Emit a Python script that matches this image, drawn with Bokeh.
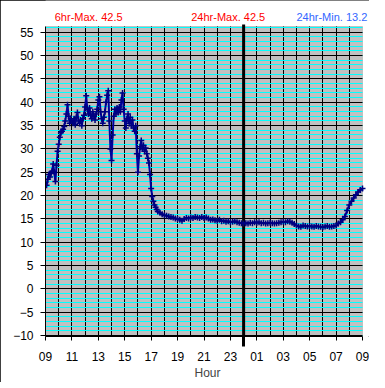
from bokeh.plotting import figure
from bokeh.models import (Range1d, FixedTicker, SingleIntervalTicker, Label,
                          BoxAnnotation)
from bokeh.embed import file_html
from bokeh.resources import INLINE

# 5-minute readings, 09:00 - 17:30
day_temps = [
    22.8, 22.2, 23.5, 24.5, 24.0, 24.8, 25.2, 26.8, 25.0, 23.0, 26.5, 29.5,
    31.0, 32.5, 33.5, 33.8, 34.2, 34.8, 36.0, 37.5, 39.5, 37.0, 35.5, 36.5,
    36.0, 35.5, 36.5, 35.2, 36.8, 37.8, 36.0, 35.5, 36.2, 35.0, 36.5, 37.2,
    39.0, 41.4, 38.5, 37.5, 38.8, 37.2, 36.5, 38.0, 37.0, 36.2, 37.5, 38.5,
    40.5, 41.2, 38.0, 36.5, 35.5, 36.8, 38.0, 40.0, 41.5, 42.5, 36.0, 30.0,
    27.5, 33.0, 37.0, 38.5, 37.5, 38.8, 37.8, 39.0, 38.0, 40.5, 42.0, 38.5,
    36.0, 34.5, 36.5, 37.5, 35.5, 36.8, 35.0, 36.2, 34.5, 33.8, 35.0, 29.0,
    25.0, 28.5, 30.5, 31.8, 30.0, 30.8, 29.5, 30.2, 29.0, 28.0, 27.0, 24.5,
    21.5, 19.8, 18.8, 18.0, 17.5, 17.0, 16.6,
]
# 10-minute readings, 17:40 - 09:00
night_temps = [
    16.3, 16.0,
    15.8, 15.7, 15.5, 15.4, 15.3, 15.1,
    15.0, 14.8, 14.6, 15.0, 15.2, 15.1,
    15.3, 15.2, 15.4, 15.3, 15.2, 15.4,
    15.2, 15.3, 15.1, 14.8, 14.9, 14.7,
    14.6, 14.8, 14.5, 14.6, 14.4, 14.5,
    14.3, 14.4, 14.5, 14.3, 14.2, 14.1,
    14.0, 14.1, 14.0, 14.2, 14.1, 14.3,
    14.2, 14.3, 14.1, 14.2, 14.0, 14.1,
    14.2, 14.1, 14.0, 14.1, 14.2, 14.3,
    14.4, 14.3, 14.5, 14.4, 14.2, 13.9,
    13.6, 13.4, 13.3, 13.6, 13.5, 13.4,
    13.5, 13.4, 13.3, 13.5, 13.4, 13.3,
    13.2, 13.4, 13.5, 13.3, 13.4, 13.5,
    13.6, 14.0, 14.3, 14.8, 15.5, 16.8,
    18.0, 18.8, 19.5, 20.2, 20.8, 21.2,
    21.5,
]
day_minutes = list(range(0, 515, 5))
night_minutes = list(range(520, 1441, 10))

hour_labels = ["09", "11", "13", "15", "17", "19", "21", "23",
               "01", "03", "05", "07", "09"]
y_ticks = list(range(-10, 60, 5))
midnight = 900          # minutes after 09:00
max_6hr = 42.5
max_24hr = 42.5
min_24hr = 13.2

minutes = day_minutes + night_minutes
temps = day_temps + night_temps

FONT = "Liberation Sans"

# layout geometry (pixels)
PLOT_W = 317                   # width of the grey plot area
RIGHT = 7                      # strip right of the plot area (inside frame)
FRAME_H = 336
HEAD = 26                      # header strip above the plot area
x_start, x_stop = 0, 1440
x_end = x_stop + RIGHT * (x_stop - x_start) / PLOT_W
plot_bottom, plot_top = -10.2, 56.25
scale = (FRAME_H - HEAD) / (plot_top - plot_bottom)
y_end = plot_top + HEAD / scale
head_y = y_end - 16 / scale
line_top = y_end - 24 / scale

p = figure(frame_width=PLOT_W + RIGHT, frame_height=FRAME_H,
           x_range=Range1d(x_start, x_end), y_range=Range1d(plot_bottom, y_end),
           output_backend="svg", toolbar_location=None,
           min_border_left=45, min_border_right=0,
           min_border_top=0, min_border_bottom=36)
p.background_fill_color = "white"
p.border_fill_color = "white"
p.outline_line_color = None
p.styles = {"outline": "1px solid black", "outline-offset": "-1px"}

# plot area
p.add_layout(BoxAnnotation(left=x_start, right=x_stop, bottom=plot_bottom, top=plot_top,
                           fill_color="#c0c0c0", fill_alpha=1,
                           line_color="#808080", line_width=1, level="image"))

# grids
p.xgrid.ticker = SingleIntervalTicker(interval=60, num_minor_ticks=0)
p.xgrid.bounds = (x_start, x_stop - 30)
p.xgrid.cross_bounds = (plot_bottom, plot_top)
p.xgrid.grid_line_color = "black"
p.xgrid.grid_line_width = 1
p.ygrid.ticker = SingleIntervalTicker(interval=5, num_minor_ticks=5)
p.ygrid.bounds = (plot_bottom, plot_top)
p.ygrid.cross_bounds = (x_start, x_stop)
p.ygrid.grid_line_color = "black"
p.ygrid.grid_line_width = 1
p.ygrid.minor_grid_line_color = "#00ffff"
p.ygrid.minor_grid_line_width = 1

# axes
x_ticks = [i * 120 for i in range(len(hour_labels))]
p.xaxis.ticker = FixedTicker(ticks=x_ticks, minor_ticks=[midnight])
p.xaxis.bounds = (x_start, x_stop)
p.xaxis.major_label_overrides = dict(zip(x_ticks, hour_labels))
p.xaxis.axis_label = "Hour"
p.xaxis.axis_label_text_font = FONT
p.xaxis.axis_label_text_font_size = "12px"
p.xaxis.axis_label_text_font_style = "normal"
p.xaxis.axis_label_standoff = 2
p.xaxis.major_tick_out = 4
p.xaxis.major_tick_in = 0
p.xaxis.minor_tick_out = 10
p.xaxis.minor_tick_in = 0
p.xaxis.minor_tick_line_width = 3
p.xaxis.minor_tick_line_color = "black"
p.xaxis.major_label_standoff = 5

p.yaxis.ticker = FixedTicker(ticks=y_ticks)
p.yaxis.bounds = (plot_bottom, plot_top)
p.yaxis.major_tick_out = 5
p.yaxis.major_tick_in = 0
p.yaxis.minor_tick_line_color = None
p.yaxis.major_label_standoff = 7

for ax in (p.xaxis, p.yaxis):
    ax.major_label_text_font = FONT
    ax.major_label_text_font_size = "12px"
    ax.major_label_text_color = "black"
    ax.axis_line_color = "black"
    ax.major_tick_line_color = "black"

# midnight marker
p.segment(x0=[midnight], y0=[plot_bottom], x1=[midnight], y1=[line_top],
          line_color="black", line_width=3)

# data
p.line(minutes, temps, line_color="#00009c", line_width=2)
p.scatter(minutes, temps, marker="cross", size=6, line_color="#000080",
          line_width=1.5)

# header texts
p.add_layout(Label(x=42, y=head_y, text=f"6hr-Max. {max_6hr}", text_color="#ff0000",
                   text_font=FONT, text_font_size="11px",
                   text_align="left", text_baseline="middle"))
p.add_layout(Label(x=830, y=head_y, text=f"24hr-Max. {max_24hr}", text_color="#ff0000",
                   text_font=FONT, text_font_size="11px",
                   text_align="center", text_baseline="middle"))
p.add_layout(Label(x=1462, y=head_y, text=f"24hr-Min. {min_24hr}", text_color="#3366ff",
                   text_font=FONT, text_font_size="11px",
                   text_align="right", text_baseline="middle"))

open("out.html", "w").write(file_html(p, INLINE))
